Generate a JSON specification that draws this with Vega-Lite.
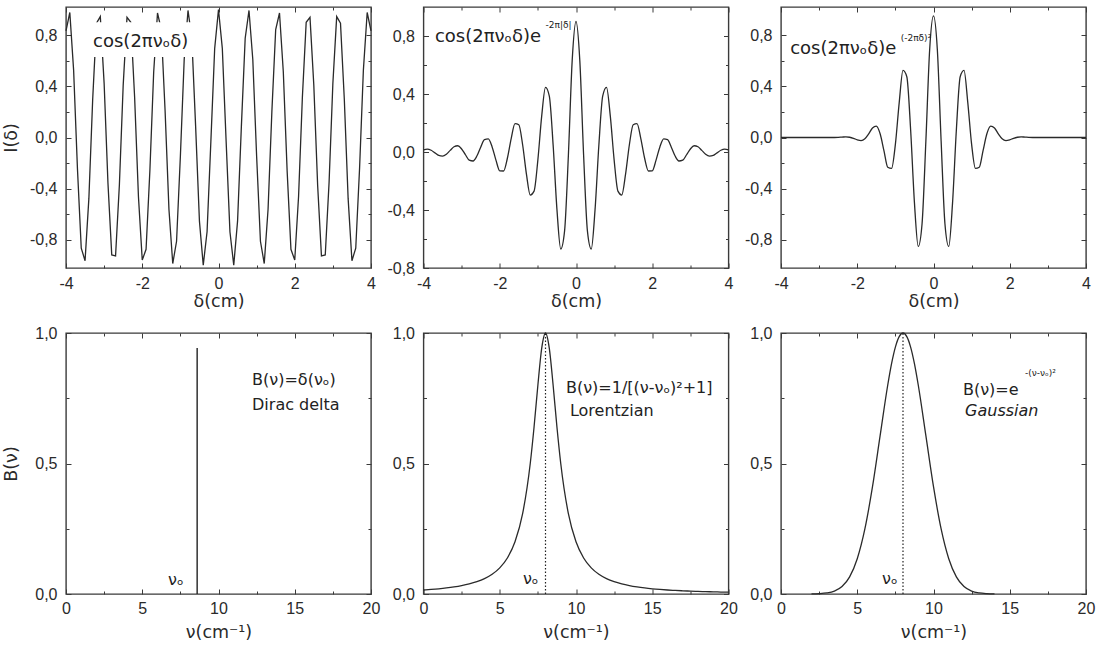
{
  "$schema": "https://vega.github.io/schema/vega-lite/v6.json",
  "padding": {"left": 1, "top": 5, "right": 5, "bottom": 5},
  "background": "white",
  "config": {
    "view": {"stroke": "#3a3a3a", "strokeWidth": 1.4},
    "axis": {"domain": false, "grid": false, "tickColor": "#3a3a3a", "tickWidth": 1, "labelFont": "Liberation Sans", "labelFontSize": 16, "labelColor": "#2a2a2a", "labelFlush": false, "labelOverlap": false, "titleFont": "DejaVu Sans", "titleFontSize": 17.5, "titleFontWeight": "normal", "titleColor": "#2a2a2a"},
    "line": {"color": "#2a2a2a", "strokeWidth": 1.3},
    "text": {"font": "DejaVu Sans", "color": "#222"}
  },
  "datasets": {
    "top": [
      {"d": -4.0, "a": 0.834, "b": 0.015, "c": 0},
      {"d": -3.9, "a": 0.977, "b": 0.020, "c": 0},
      {"d": -3.8, "a": 0.526, "b": 0.012, "c": 0},
      {"d": -3.7, "a": -0.243, "b": -0.006, "c": 0},
      {"d": -3.6, "a": -0.865, "b": -0.024, "c": 0},
      {"d": -3.5, "a": -0.963, "b": -0.029, "c": 0},
      {"d": -3.4, "a": -0.476, "b": -0.016, "c": 0},
      {"d": -3.3, "a": 0.299, "b": 0.011, "c": 0},
      {"d": -3.2, "a": 0.893, "b": 0.036, "c": 0},
      {"d": -3.1, "a": 0.945, "b": 0.043, "c": 0},
      {"d": -3.0, "a": 0.424, "b": 0.021, "c": 0},
      {"d": -2.9, "a": -0.354, "b": -0.019, "c": 0},
      {"d": -2.8, "a": -0.918, "b": -0.056, "c": 0},
      {"d": -2.7, "a": -0.925, "b": -0.062, "c": 0},
      {"d": -2.6, "a": -0.371, "b": -0.028, "c": 0},
      {"d": -2.5, "a": 0.408, "b": 0.033, "c": 0.001},
      {"d": -2.4, "a": 0.939, "b": 0.085, "c": 0.003},
      {"d": -2.3, "a": 0.901, "b": 0.090, "c": 0.005},
      {"d": -2.2, "a": 0.315, "b": 0.035, "c": 0.002},
      {"d": -2.1, "a": -0.461, "b": -0.056, "c": -0.006},
      {"d": -2.0, "a": -0.958, "b": -0.130, "c": -0.018},
      {"d": -1.9, "a": -0.874, "b": -0.131, "c": -0.024},
      {"d": -1.8, "a": -0.260, "b": -0.043, "c": -0.010},
      {"d": -1.7, "a": 0.512, "b": 0.093, "c": 0.028},
      {"d": -1.6, "a": 0.973, "b": 0.196, "c": 0.075},
      {"d": -1.5, "a": 0.844, "b": 0.188, "c": 0.089},
      {"d": -1.4, "a": 0.203, "b": 0.050, "c": 0.029},
      {"d": -1.3, "a": -0.561, "b": -0.153, "c": -0.103},
      {"d": -1.2, "a": -0.985, "b": -0.297, "c": -0.233},
      {"d": -1.1, "a": -0.811, "b": -0.270, "c": -0.242},
      {"d": -1.0, "a": -0.146, "b": -0.054, "c": -0.054},
      {"d": -0.9, "a": 0.608, "b": 0.247, "c": 0.271},
      {"d": -0.8, "a": 0.993, "b": 0.446, "c": 0.524},
      {"d": -0.7, "a": 0.776, "b": 0.385, "c": 0.475},
      {"d": -0.6, "a": 0.087, "b": 0.048, "c": 0.061},
      {"d": -0.5, "a": -0.654, "b": -0.396, "c": -0.509},
      {"d": -0.4, "a": -0.998, "b": -0.669, "c": -0.851},
      {"d": -0.3, "a": -0.737, "b": -0.546, "c": -0.674},
      {"d": -0.2, "a": -0.029, "b": -0.024, "c": -0.028},
      {"d": -0.1, "a": 0.697, "b": 0.630, "c": 0.690},
      {"d": 0.0, "a": 1.0, "b": 0.90, "c": 0.95},
      {"d": 0.1, "a": 0.697, "b": 0.630, "c": 0.690},
      {"d": 0.2, "a": -0.029, "b": -0.024, "c": -0.028},
      {"d": 0.3, "a": -0.737, "b": -0.546, "c": -0.674},
      {"d": 0.4, "a": -0.998, "b": -0.669, "c": -0.851},
      {"d": 0.5, "a": -0.654, "b": -0.396, "c": -0.509},
      {"d": 0.6, "a": 0.087, "b": 0.048, "c": 0.061},
      {"d": 0.7, "a": 0.776, "b": 0.385, "c": 0.475},
      {"d": 0.8, "a": 0.993, "b": 0.446, "c": 0.524},
      {"d": 0.9, "a": 0.608, "b": 0.247, "c": 0.271},
      {"d": 1.0, "a": -0.146, "b": -0.054, "c": -0.054},
      {"d": 1.1, "a": -0.811, "b": -0.270, "c": -0.242},
      {"d": 1.2, "a": -0.985, "b": -0.297, "c": -0.233},
      {"d": 1.3, "a": -0.561, "b": -0.153, "c": -0.103},
      {"d": 1.4, "a": 0.203, "b": 0.050, "c": 0.029},
      {"d": 1.5, "a": 0.844, "b": 0.188, "c": 0.089},
      {"d": 1.6, "a": 0.973, "b": 0.196, "c": 0.075},
      {"d": 1.7, "a": 0.512, "b": 0.093, "c": 0.028},
      {"d": 1.8, "a": -0.260, "b": -0.043, "c": -0.010},
      {"d": 1.9, "a": -0.874, "b": -0.131, "c": -0.024},
      {"d": 2.0, "a": -0.958, "b": -0.130, "c": -0.018},
      {"d": 2.1, "a": -0.461, "b": -0.056, "c": -0.006},
      {"d": 2.2, "a": 0.315, "b": 0.035, "c": 0.002},
      {"d": 2.3, "a": 0.901, "b": 0.090, "c": 0.005},
      {"d": 2.4, "a": 0.939, "b": 0.085, "c": 0.003},
      {"d": 2.5, "a": 0.408, "b": 0.033, "c": 0.001},
      {"d": 2.6, "a": -0.371, "b": -0.028, "c": 0},
      {"d": 2.7, "a": -0.925, "b": -0.062, "c": 0},
      {"d": 2.8, "a": -0.918, "b": -0.056, "c": 0},
      {"d": 2.9, "a": -0.354, "b": -0.019, "c": 0},
      {"d": 3.0, "a": 0.424, "b": 0.021, "c": 0},
      {"d": 3.1, "a": 0.945, "b": 0.043, "c": 0},
      {"d": 3.2, "a": 0.893, "b": 0.036, "c": 0},
      {"d": 3.3, "a": 0.299, "b": 0.011, "c": 0},
      {"d": 3.4, "a": -0.476, "b": -0.016, "c": 0},
      {"d": 3.5, "a": -0.963, "b": -0.029, "c": 0},
      {"d": 3.6, "a": -0.865, "b": -0.024, "c": 0},
      {"d": 3.7, "a": -0.243, "b": -0.006, "c": 0},
      {"d": 3.8, "a": 0.526, "b": 0.012, "c": 0},
      {"d": 3.9, "a": 0.977, "b": 0.020, "c": 0},
      {"d": 4.0, "a": 0.834, "b": 0.015, "c": 0}
    ],
    "bot": [
      {"n": 0, "l": 0.0154, "g": 0},
      {"n": 0.5, "l": 0.0175, "g": 0},
      {"n": 1, "l": 0.02, "g": 0},
      {"n": 1.5, "l": 0.0231, "g": 0},
      {"n": 2, "l": 0.027, "g": 0.0003},
      {"n": 2.5, "l": 0.032, "g": 0.0012},
      {"n": 3, "l": 0.0385, "g": 0.0039},
      {"n": 3.5, "l": 0.0471, "g": 0.0111},
      {"n": 4, "l": 0.0588, "g": 0.0286},
      {"n": 4.5, "l": 0.0755, "g": 0.0657},
      {"n": 5, "l": 0.1, "g": 0.1353},
      {"n": 5.5, "l": 0.1379, "g": 0.2494},
      {"n": 6, "l": 0.2, "g": 0.4111},
      {"n": 6.5, "l": 0.3077, "g": 0.6065},
      {"n": 7, "l": 0.5, "g": 0.8007},
      {"n": 7.25, "l": 0.64, "g": 0.8825},
      {"n": 7.5, "l": 0.8, "g": 0.946},
      {"n": 7.75, "l": 0.9412, "g": 0.9862},
      {"n": 8, "l": 1.0, "g": 1.0},
      {"n": 8.25, "l": 0.9412, "g": 0.9862},
      {"n": 8.5, "l": 0.8, "g": 0.946},
      {"n": 8.75, "l": 0.64, "g": 0.8825},
      {"n": 9, "l": 0.5, "g": 0.8007},
      {"n": 9.5, "l": 0.3077, "g": 0.6065},
      {"n": 10, "l": 0.2, "g": 0.4111},
      {"n": 10.5, "l": 0.1379, "g": 0.2494},
      {"n": 11, "l": 0.1, "g": 0.1353},
      {"n": 11.5, "l": 0.0755, "g": 0.0657},
      {"n": 12, "l": 0.0588, "g": 0.0286},
      {"n": 12.5, "l": 0.0471, "g": 0.0111},
      {"n": 13, "l": 0.0385, "g": 0.0039},
      {"n": 13.5, "l": 0.032, "g": 0.0012},
      {"n": 14, "l": 0.027, "g": 0.0003},
      {"n": 14.5, "l": 0.0231, "g": 0},
      {"n": 15, "l": 0.02, "g": 0},
      {"n": 15.5, "l": 0.0175, "g": 0},
      {"n": 16, "l": 0.0154, "g": 0},
      {"n": 16.5, "l": 0.0137, "g": 0},
      {"n": 17, "l": 0.0122, "g": 0},
      {"n": 17.5, "l": 0.011, "g": 0},
      {"n": 18, "l": 0.0099, "g": 0},
      {"n": 18.5, "l": 0.009, "g": 0},
      {"n": 19, "l": 0.0082, "g": 0},
      {"n": 19.5, "l": 0.0075, "g": 0},
      {"n": 20, "l": 0.0069, "g": 0}
    ]
  },
  "columns": 3,
  "bounds": "flush",
  "spacing": {"row": 65, "column": 52.5},
  "concat": [
    {
      "width": 305, "height": 261,
      "layer": [
        {
          "data": {"name": "top"},
          "mark": {"type": "line", "interpolate": "linear"},
          "encoding": {
            "x": {"field": "d", "type": "quantitative", "scale": {"domain": [-4, 4], "nice": false, "zero": false},
              "axis": {"orient": "bottom", "values": [-4, -3, -2, -1, 0, 1, 2, 3, 4], "labelExpr": "datum.value % 2 === 0 ? replace(format(datum.value, 'd'), '\u2212', '-') : ''", "tickSize": {"condition": {"test": "datum.value % 2 === 0", "value": -5}, "value": -3}, "labelPadding": 12, "title": "δ(cm)", "titleY": 24, "titleBaseline": "top"}},
            "y": {"field": "a", "type": "quantitative", "scale": {"domain": [-1.02, 1.02], "nice": false, "zero": false},
              "axis": {"orient": "left", "values": [-0.8, -0.6, -0.4, -0.2, 0, 0.2, 0.4, 0.6, 0.8], "labelExpr": "abs(round(datum.value*10)) % 4 === 0 ? replace(replace(format(datum.value, '.1f'), '.', ','), '\u2212', '-') : ''", "tickSize": {"condition": {"test": "abs(round(datum.value*10)) % 4 === 0", "value": -5}, "value": -3}, "labelPadding": 14, "title": "I(δ)", "titleX": -46}}
          }
        },
        {
          "data": {"name": "top"},
          "mark": {"type": "line", "strokeOpacity": 0},
          "encoding": {
            "x": {"field": "d", "type": "quantitative", "scale": {"domain": [-4, 4], "nice": false, "zero": false},
              "axis": {"orient": "top", "values": [-4, -3, -2, -1, 0, 1, 2, 3, 4], "labels": false, "title": null, "tickSize": {"condition": {"test": "datum.value % 2 === 0", "value": -5}, "value": -3}}},
            "y": {"field": "a", "type": "quantitative", "scale": {"domain": [-1.02, 1.02], "nice": false, "zero": false},
              "axis": {"orient": "right", "values": [-0.8, -0.6, -0.4, -0.2, 0, 0.2, 0.4, 0.6, 0.8], "labels": false, "title": null, "tickSize": {"condition": {"test": "abs(round(datum.value*10)) % 4 === 0", "value": -5}, "value": -3}}}
          }
        },
        {
          "data": {"values": [{"x1": -3.45, "x2": -0.5, "y1": 0.63, "y2": 0.9}]},
          "mark": {"type": "rect", "color": "white"},
          "encoding": {
            "x": {"field": "x1", "type": "quantitative", "scale": {"domain": [-4, 4], "nice": false, "zero": false}, "axis": null},
            "x2": {"field": "x2"},
            "y": {"field": "y1", "type": "quantitative", "scale": {"domain": [-1.02, 1.02], "nice": false, "zero": false}, "axis": null},
            "y2": {"field": "y2"}
          }
        },
        {
          "data": {"values": [{"x": -3.29, "y": 0.746, "t": "cos(2πνₒδ)"}]},
          "mark": {"type": "text", "align": "left", "baseline": "middle", "fontSize": 18},
          "encoding": {
            "x": {"field": "x", "type": "quantitative", "scale": {"domain": [-4, 4], "nice": false, "zero": false}, "axis": null},
            "y": {"field": "y", "type": "quantitative", "scale": {"domain": [-1.02, 1.02], "nice": false, "zero": false}, "axis": null},
            "text": {"field": "t"}
          }
        }
      ]
    },
    {
      "width": 305, "height": 261,
      "layer": [
        {
          "data": {"name": "top"},
          "mark": {"type": "line", "interpolate": "monotone"},
          "encoding": {
            "x": {"field": "d", "type": "quantitative", "scale": {"domain": [-4, 4], "nice": false, "zero": false},
              "axis": {"orient": "bottom", "values": [-4, -3, -2, -1, 0, 1, 2, 3, 4], "labelExpr": "datum.value % 2 === 0 ? replace(format(datum.value, 'd'), '\u2212', '-') : ''", "tickSize": {"condition": {"test": "datum.value % 2 === 0", "value": -5}, "value": -3}, "labelPadding": 12, "title": "δ(cm)", "titleY": 24, "titleBaseline": "top"}},
            "y": {"field": "b", "type": "quantitative", "scale": {"domain": [-0.8, 1.0], "nice": false, "zero": false},
              "axis": {"orient": "left", "values": [-0.8, -0.6, -0.4, -0.2, 0, 0.2, 0.4, 0.6, 0.8], "labelExpr": "abs(round(datum.value*10)) % 4 === 0 ? replace(replace(format(datum.value, '.1f'), '.', ','), '\u2212', '-') : ''", "tickSize": {"condition": {"test": "abs(round(datum.value*10)) % 4 === 0", "value": -5}, "value": -3}, "labelPadding": 14, "title": null}}
          }
        },
        {
          "data": {"name": "top"},
          "mark": {"type": "line", "strokeOpacity": 0},
          "encoding": {
            "x": {"field": "d", "type": "quantitative", "scale": {"domain": [-4, 4], "nice": false, "zero": false},
              "axis": {"orient": "top", "values": [-4, -3, -2, -1, 0, 1, 2, 3, 4], "labels": false, "title": null, "tickSize": {"condition": {"test": "datum.value % 2 === 0", "value": -5}, "value": -3}}},
            "y": {"field": "b", "type": "quantitative", "scale": {"domain": [-0.8, 1.0], "nice": false, "zero": false},
              "axis": {"orient": "right", "values": [-0.8, -0.6, -0.4, -0.2, 0, 0.2, 0.4, 0.6, 0.8], "labels": false, "title": null, "tickSize": {"condition": {"test": "abs(round(datum.value*10)) % 4 === 0", "value": -5}, "value": -3}}}
          }
        },
        {
          "data": {"values": [{"x": -3.70, "y": 0.793, "t": "cos(2πνₒδ)e"}]},
          "mark": {"type": "text", "align": "left", "baseline": "middle", "fontSize": 18},
          "encoding": {
            "x": {"field": "x", "type": "quantitative", "scale": {"domain": [-4, 4], "nice": false, "zero": false}, "axis": null},
            "y": {"field": "y", "type": "quantitative", "scale": {"domain": [-0.8, 1.0], "nice": false, "zero": false}, "axis": null},
            "text": {"field": "t"}
          }
        },
        {
          "data": {"values": [{"x": -0.80, "y": 0.879, "t": "-2π|δ|"}]},
          "mark": {"type": "text", "align": "left", "baseline": "middle", "fontSize": 9},
          "encoding": {
            "x": {"field": "x", "type": "quantitative", "scale": {"domain": [-4, 4], "nice": false, "zero": false}, "axis": null},
            "y": {"field": "y", "type": "quantitative", "scale": {"domain": [-0.8, 1.0], "nice": false, "zero": false}, "axis": null},
            "text": {"field": "t"}
          }
        }
      ]
    },
    {
      "width": 305, "height": 261,
      "layer": [
        {
          "data": {"name": "top"},
          "mark": {"type": "line", "interpolate": "monotone"},
          "encoding": {
            "x": {"field": "d", "type": "quantitative", "scale": {"domain": [-4, 4], "nice": false, "zero": false},
              "axis": {"orient": "bottom", "values": [-4, -3, -2, -1, 0, 1, 2, 3, 4], "labelExpr": "datum.value % 2 === 0 ? replace(format(datum.value, 'd'), '\u2212', '-') : ''", "tickSize": {"condition": {"test": "datum.value % 2 === 0", "value": -5}, "value": -3}, "labelPadding": 12, "title": "δ(cm)", "titleY": 24, "titleBaseline": "top"}},
            "y": {"field": "c", "type": "quantitative", "scale": {"domain": [-1.02, 1.02], "nice": false, "zero": false},
              "axis": {"orient": "left", "values": [-0.8, -0.6, -0.4, -0.2, 0, 0.2, 0.4, 0.6, 0.8], "labelExpr": "abs(round(datum.value*10)) % 4 === 0 ? replace(replace(format(datum.value, '.1f'), '.', ','), '\u2212', '-') : ''", "tickSize": {"condition": {"test": "abs(round(datum.value*10)) % 4 === 0", "value": -5}, "value": -3}, "labelPadding": 14, "title": null}}
          }
        },
        {
          "data": {"name": "top"},
          "mark": {"type": "line", "strokeOpacity": 0},
          "encoding": {
            "x": {"field": "d", "type": "quantitative", "scale": {"domain": [-4, 4], "nice": false, "zero": false},
              "axis": {"orient": "top", "values": [-4, -3, -2, -1, 0, 1, 2, 3, 4], "labels": false, "title": null, "tickSize": {"condition": {"test": "datum.value % 2 === 0", "value": -5}, "value": -3}}},
            "y": {"field": "c", "type": "quantitative", "scale": {"domain": [-1.02, 1.02], "nice": false, "zero": false},
              "axis": {"orient": "right", "values": [-0.8, -0.6, -0.4, -0.2, 0, 0.2, 0.4, 0.6, 0.8], "labels": false, "title": null, "tickSize": {"condition": {"test": "abs(round(datum.value*10)) % 4 === 0", "value": -5}, "value": -3}}}
          }
        },
        {
          "data": {"values": [{"x": -3.76, "y": 0.692, "t": "cos(2πνₒδ)e"}]},
          "mark": {"type": "text", "align": "left", "baseline": "middle", "fontSize": 18},
          "encoding": {
            "x": {"field": "x", "type": "quantitative", "scale": {"domain": [-4, 4], "nice": false, "zero": false}, "axis": null},
            "y": {"field": "y", "type": "quantitative", "scale": {"domain": [-1.02, 1.02], "nice": false, "zero": false}, "axis": null},
            "text": {"field": "t"}
          }
        },
        {
          "data": {"values": [{"x": -0.86, "y": 0.775, "t": "(-2πδ)²"}]},
          "mark": {"type": "text", "align": "left", "baseline": "middle", "fontSize": 9},
          "encoding": {
            "x": {"field": "x", "type": "quantitative", "scale": {"domain": [-4, 4], "nice": false, "zero": false}, "axis": null},
            "y": {"field": "y", "type": "quantitative", "scale": {"domain": [-1.02, 1.02], "nice": false, "zero": false}, "axis": null},
            "text": {"field": "t"}
          }
        }
      ]
    },
    {
      "width": 305, "height": 261,
      "layer": [
        {
          "data": {"values": [{"n": 8.6, "y1": 0, "y2": 0.943}]},
          "mark": {"type": "rule", "color": "#222", "strokeWidth": 1.4},
          "encoding": {
            "x": {"field": "n", "type": "quantitative", "scale": {"domain": [0, 20], "nice": false, "zero": false},
              "axis": {"orient": "bottom", "values": [0, 2.5, 5, 7.5, 10, 12.5, 15, 17.5, 20], "labelExpr": "datum.value % 5 === 0 ? format(datum.value, 'd') : ''", "tickSize": {"condition": {"test": "datum.value % 5 === 0", "value": -5}, "value": -3}, "labelPadding": 11, "title": "ν(cm⁻¹)", "titleY": 29, "titleBaseline": "top"}},
            "y": {"field": "y1", "type": "quantitative", "scale": {"domain": [0, 1], "nice": false, "zero": false},
              "axis": {"orient": "left", "values": [0, 0.25, 0.5, 0.75, 1], "labelExpr": "(datum.value*4) % 2 === 0 ? replace(format(datum.value, '.1f'), '.', ',') : ''", "tickSize": {"condition": {"test": "(datum.value*4) % 2 === 0", "value": -5}, "value": -3}, "labelPadding": 14, "title": "B(ν)", "titleX": -46}},
            "y2": {"field": "y2"}
          }
        },
        {
          "data": {"values": [{"n": 8.6, "y1": 0, "y2": 0.943}]},
          "mark": {"type": "rule", "strokeOpacity": 0},
          "encoding": {
            "x": {"field": "n", "type": "quantitative", "scale": {"domain": [0, 20], "nice": false, "zero": false},
              "axis": {"orient": "top", "values": [0, 2.5, 5, 7.5, 10, 12.5, 15, 17.5, 20], "labels": false, "title": null, "tickSize": {"condition": {"test": "datum.value % 5 === 0", "value": -5}, "value": -3}}},
            "y": {"field": "y1", "type": "quantitative", "scale": {"domain": [0, 1], "nice": false, "zero": false},
              "axis": {"orient": "right", "values": [0, 0.25, 0.5, 0.75, 1], "labels": false, "title": null, "tickSize": {"condition": {"test": "(datum.value*4) % 2 === 0", "value": -5}, "value": -3}}},
            "y2": {"field": "y2"}
          }
        },
        {
          "data": {"values": [{"x": 12.2, "y": 0.82, "t": "B(ν)=δ(νₒ)"}, {"x": 12.2, "y": 0.725, "t": "Dirac delta"}, {"x": 6.69, "y": 0.055, "t": "νₒ"}]},
          "mark": {"type": "text", "align": "left", "baseline": "middle", "fontSize": 16},
          "encoding": {
            "x": {"field": "x", "type": "quantitative", "scale": {"domain": [0, 20], "nice": false, "zero": false}, "axis": null},
            "y": {"field": "y", "type": "quantitative", "scale": {"domain": [0, 1], "nice": false, "zero": false}, "axis": null},
            "text": {"field": "t"}
          }
        }
      ]
    },
    {
      "width": 305, "height": 261,
      "layer": [
        {
          "data": {"name": "bot"},
          "mark": {"type": "line", "interpolate": "monotone"},
          "encoding": {
            "x": {"field": "n", "type": "quantitative", "scale": {"domain": [0, 20], "nice": false, "zero": false},
              "axis": {"orient": "bottom", "values": [0, 2.5, 5, 7.5, 10, 12.5, 15, 17.5, 20], "labelExpr": "datum.value % 5 === 0 ? format(datum.value, 'd') : ''", "tickSize": {"condition": {"test": "datum.value % 5 === 0", "value": -5}, "value": -3}, "labelPadding": 11, "title": "ν(cm⁻¹)", "titleY": 29, "titleBaseline": "top"}},
            "y": {"field": "l", "type": "quantitative", "scale": {"domain": [0, 1], "nice": false, "zero": false},
              "axis": {"orient": "left", "values": [0, 0.25, 0.5, 0.75, 1], "labelExpr": "(datum.value*4) % 2 === 0 ? replace(format(datum.value, '.1f'), '.', ',') : ''", "tickSize": {"condition": {"test": "(datum.value*4) % 2 === 0", "value": -5}, "value": -3}, "labelPadding": 14, "title": null}}
          }
        },
        {
          "data": {"name": "bot"},
          "mark": {"type": "line", "strokeOpacity": 0},
          "encoding": {
            "x": {"field": "n", "type": "quantitative", "scale": {"domain": [0, 20], "nice": false, "zero": false},
              "axis": {"orient": "top", "values": [0, 2.5, 5, 7.5, 10, 12.5, 15, 17.5, 20], "labels": false, "title": null, "tickSize": {"condition": {"test": "datum.value % 5 === 0", "value": -5}, "value": -3}}},
            "y": {"field": "l", "type": "quantitative", "scale": {"domain": [0, 1], "nice": false, "zero": false},
              "axis": {"orient": "right", "values": [0, 0.25, 0.5, 0.75, 1], "labels": false, "title": null, "tickSize": {"condition": {"test": "(datum.value*4) % 2 === 0", "value": -5}, "value": -3}}}
          }
        },
        {
          "data": {"values": [{"n": 8, "y1": 0, "y2": 1}]},
          "mark": {"type": "rule", "color": "#222", "strokeWidth": 1.2, "strokeDash": [1.5, 2]},
          "encoding": {
            "x": {"field": "n", "type": "quantitative", "scale": {"domain": [0, 20], "nice": false, "zero": false}, "axis": null},
            "y": {"field": "y1", "type": "quantitative", "scale": {"domain": [0, 1], "nice": false, "zero": false}, "axis": null},
            "y2": {"field": "y2"}
          }
        },
        {
          "data": {"values": [{"x": 9.34, "y": 0.79, "t": "B(ν)=1/[(ν-νₒ)²+1]"}, {"x": 9.6, "y": 0.70, "t": "Lorentzian"}, {"x": 6.52, "y": 0.057, "t": "νₒ"}]},
          "mark": {"type": "text", "align": "left", "baseline": "middle", "fontSize": 16},
          "encoding": {
            "x": {"field": "x", "type": "quantitative", "scale": {"domain": [0, 20], "nice": false, "zero": false}, "axis": null},
            "y": {"field": "y", "type": "quantitative", "scale": {"domain": [0, 1], "nice": false, "zero": false}, "axis": null},
            "text": {"field": "t"}
          }
        }
      ]
    },
    {
      "width": 305, "height": 261,
      "layer": [
        {
          "data": {"name": "bot"},
          "transform": [{"filter": "datum.g > 0"}],
          "mark": {"type": "line", "interpolate": "monotone"},
          "encoding": {
            "x": {"field": "n", "type": "quantitative", "scale": {"domain": [0, 20], "nice": false, "zero": false},
              "axis": {"orient": "bottom", "values": [0, 2.5, 5, 7.5, 10, 12.5, 15, 17.5, 20], "labelExpr": "datum.value % 5 === 0 ? format(datum.value, 'd') : ''", "tickSize": {"condition": {"test": "datum.value % 5 === 0", "value": -5}, "value": -3}, "labelPadding": 11, "title": "ν(cm⁻¹)", "titleY": 29, "titleBaseline": "top"}},
            "y": {"field": "g", "type": "quantitative", "scale": {"domain": [0, 1], "nice": false, "zero": false},
              "axis": {"orient": "left", "values": [0, 0.25, 0.5, 0.75, 1], "labelExpr": "(datum.value*4) % 2 === 0 ? replace(format(datum.value, '.1f'), '.', ',') : ''", "tickSize": {"condition": {"test": "(datum.value*4) % 2 === 0", "value": -5}, "value": -3}, "labelPadding": 14, "title": null}}
          }
        },
        {
          "data": {"name": "bot"},
          "mark": {"type": "line", "strokeOpacity": 0},
          "encoding": {
            "x": {"field": "n", "type": "quantitative", "scale": {"domain": [0, 20], "nice": false, "zero": false},
              "axis": {"orient": "top", "values": [0, 2.5, 5, 7.5, 10, 12.5, 15, 17.5, 20], "labels": false, "title": null, "tickSize": {"condition": {"test": "datum.value % 5 === 0", "value": -5}, "value": -3}}},
            "y": {"field": "g", "type": "quantitative", "scale": {"domain": [0, 1], "nice": false, "zero": false},
              "axis": {"orient": "right", "values": [0, 0.25, 0.5, 0.75, 1], "labels": false, "title": null, "tickSize": {"condition": {"test": "(datum.value*4) % 2 === 0", "value": -5}, "value": -3}}}
          }
        },
        {
          "data": {"values": [{"n": 8, "y1": 0, "y2": 1}]},
          "mark": {"type": "rule", "color": "#222", "strokeWidth": 1.2, "strokeDash": [1.5, 2]},
          "encoding": {
            "x": {"field": "n", "type": "quantitative", "scale": {"domain": [0, 20], "nice": false, "zero": false}, "axis": null},
            "y": {"field": "y1", "type": "quantitative", "scale": {"domain": [0, 1], "nice": false, "zero": false}, "axis": null},
            "y2": {"field": "y2"}
          }
        },
        {
          "data": {"values": [{"x": 11.93, "y": 0.78, "t": "B(ν)=e"}, {"x": 6.62, "y": 0.057, "t": "νₒ"}]},
          "mark": {"type": "text", "align": "left", "baseline": "middle", "fontSize": 16},
          "encoding": {
            "x": {"field": "x", "type": "quantitative", "scale": {"domain": [0, 20], "nice": false, "zero": false}, "axis": null},
            "y": {"field": "y", "type": "quantitative", "scale": {"domain": [0, 1], "nice": false, "zero": false}, "axis": null},
            "text": {"field": "t"}
          }
        },
        {
          "data": {"values": [{"x": 12.07, "y": 0.70, "t": "Gaussian"}]},
          "mark": {"type": "text", "align": "left", "baseline": "middle", "fontSize": 16, "fontStyle": "italic"},
          "encoding": {
            "x": {"field": "x", "type": "quantitative", "scale": {"domain": [0, 20], "nice": false, "zero": false}, "axis": null},
            "y": {"field": "y", "type": "quantitative", "scale": {"domain": [0, 1], "nice": false, "zero": false}, "axis": null},
            "text": {"field": "t"}
          }
        },
        {
          "data": {"values": [{"x": 16.0, "y": 0.845, "t": "-(ν-νₒ)²"}]},
          "mark": {"type": "text", "align": "left", "baseline": "middle", "fontSize": 9},
          "encoding": {
            "x": {"field": "x", "type": "quantitative", "scale": {"domain": [0, 20], "nice": false, "zero": false}, "axis": null},
            "y": {"field": "y", "type": "quantitative", "scale": {"domain": [0, 1], "nice": false, "zero": false}, "axis": null},
            "text": {"field": "t"}
          }
        }
      ]
    }
  ]
}
